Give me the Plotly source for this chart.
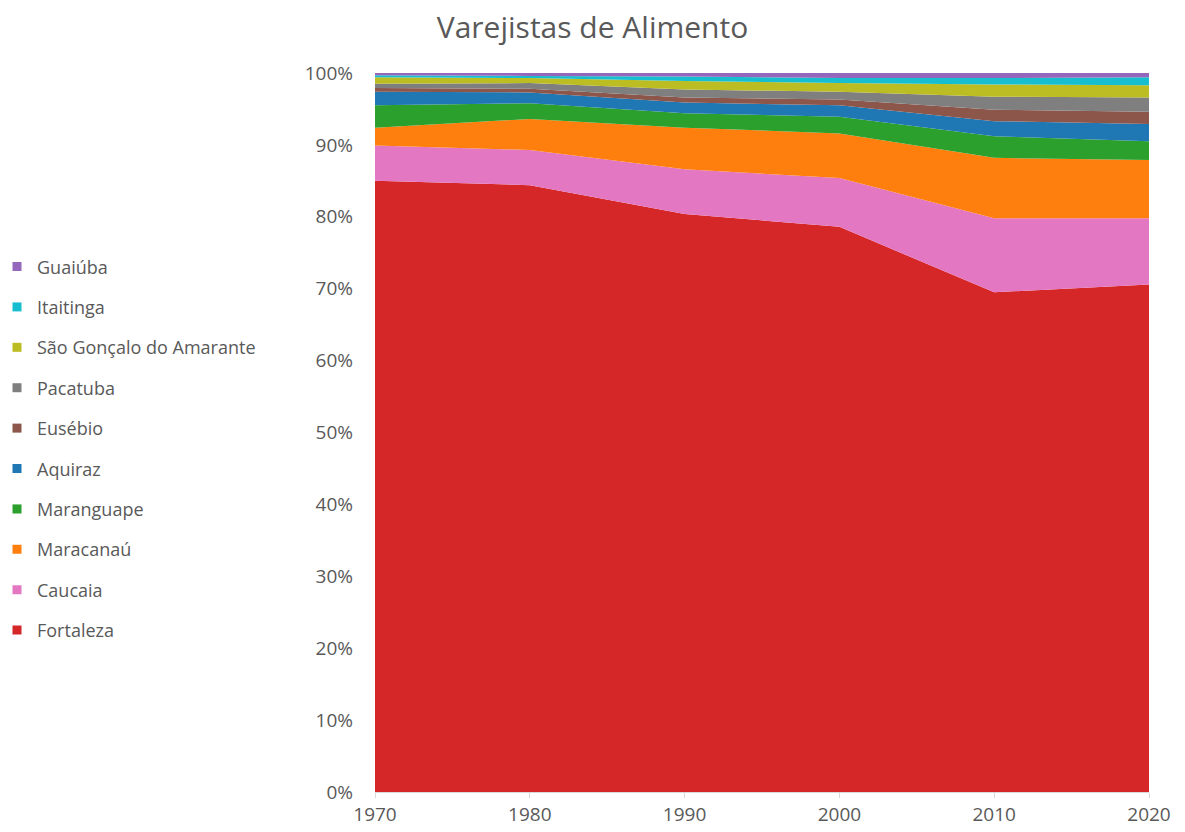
import plotly.graph_objects as go

# Share of food retailers (%) per municipality, Fortaleza metro area
years = [1970, 1980, 1990, 2000, 2010, 2020]

fortaleza = [85.0, 84.4, 80.4, 78.6, 69.5, 70.6]
caucaia = [4.9, 4.9, 6.2, 6.8, 10.3, 9.2]
maracanau = [2.5, 4.3, 5.8, 6.2, 8.4, 8.1]
maranguape = [3.1, 2.2, 2.0, 2.3, 3.0, 2.6]
aquiraz = [1.9, 1.5, 1.5, 1.6, 2.1, 2.4]
eusebio = [0.5, 0.5, 0.7, 0.8, 1.6, 1.7]
pacatuba = [0.6, 0.8, 1.1, 1.1, 1.8, 2.0]
sao_goncalo = [0.9, 0.7, 1.2, 1.2, 1.7, 1.7]
itaitinga = [0.3, 0.3, 0.6, 0.7, 0.9, 1.1]
guaiuba = [0.3, 0.4, 0.5, 0.7, 0.7, 0.6]

series = [
    ("Fortaleza", fortaleza, "#d62728"),
    ("Caucaia", caucaia, "#e377c2"),
    ("Maracanaú", maracanau, "#ff7f0e"),
    ("Maranguape", maranguape, "#2ca02c"),
    ("Aquiraz", aquiraz, "#1f77b4"),
    ("Eusébio", eusebio, "#8c564b"),
    ("Pacatuba", pacatuba, "#7f7f7f"),
    ("São Gonçalo do Amarante", sao_goncalo, "#bcbd22"),
    ("Itaitinga", itaitinga, "#17becf"),
    ("Guaiúba", guaiuba, "#9467bd"),
]

FONT = "Open Sans"
GREY = "#595959"

fig = go.Figure()
n = len(series)
for i, (name, vals, color) in enumerate(series):
    fig.add_trace(go.Scatter(
        x=years, y=vals, name=name, mode="none",
        stackgroup="one", groupnorm="percent",
        fillcolor=color, line=dict(width=0),
        legendgroup=name, showlegend=False,
        hovertemplate="%{x}: %{y:.1f}%<extra>" + name + "</extra>",
    ))
    # square swatch for the legend entry (top of stack listed first)
    fig.add_trace(go.Scatter(
        x=[None], y=[None], name=name, mode="markers",
        marker=dict(symbol="square", size=9, color=color),
        legendgroup=name, showlegend=True, legendrank=n - i,
    ))

fig.update_layout(
    width=1185, height=832,
    margin=dict(l=375, r=36, t=73, b=40, autoexpand=False),
    paper_bgcolor="white", plot_bgcolor="white",
    font=dict(family=FONT, color=GREY, size=19),
    title=dict(text="Varejistas de Alimento", x=0.5, xref="container",
               y=1 - 27 / 832, yanchor="middle",
               font=dict(family=FONT, size=30, color=GREY)),
    legend=dict(
        traceorder="grouped", tracegroupgap=14,
        x=(-3 - 375) / 774, xanchor="left", y=0.478, yanchor="middle",
        font=dict(family=FONT, size=18, color=GREY),
        itemwidth=30, bgcolor="rgba(0,0,0,0)",
    ),
    showlegend=True,
)
fig.update_xaxes(
    range=[1970, 2020], tickvals=years, ticktext=[str(y) for y in years],
    showgrid=False, zeroline=False, showline=True, linecolor="#d9d9d9",
    ticks="outside", ticklen=5, tickcolor="#d9d9d9",
    tickfont=dict(family=FONT, size=19, color=GREY),
)
fig.update_yaxes(
    range=[0, 100], dtick=10, ticksuffix="%",
    showgrid=False, zeroline=False, showline=False,
    ticks="", ticklabelstandoff=21,
    tickfont=dict(family=FONT, size=19, color=GREY),
)

fig.write_html("out.html")
